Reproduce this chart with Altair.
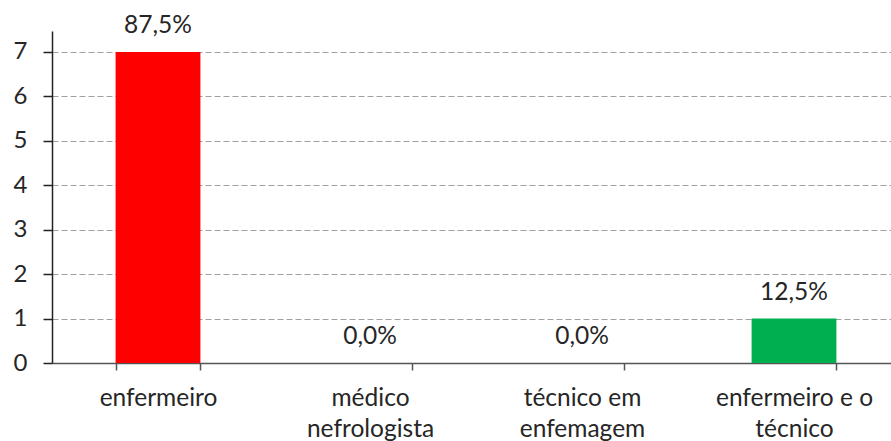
import altair as alt
import pandas as pd

# Responses per professional category
categories = [
    "enfermeiro",
    "médico\nnefrologista",
    "técnico em\nenfemagem",
    "enfermeiro e o\ntécnico",
]
counts = [7, 0, 0, 1]
colors = ["#FF0000", "#FF0000", "#FF0000", "#00B050"]

total = sum(counts)
df = pd.DataFrame({"categoria": categories, "n": counts, "cor": colors})
df["pct"] = df["n"] / total * 100
df["rotulo"] = df["pct"].map(lambda v: f"{v:.1f}".replace(".", ",") + "%")

FONT = "Lato"
TXT = "#262626"

x_enc = alt.X(
    "categoria:N",
    sort=categories,
    title=None,
    scale=alt.Scale(range=[0, 848], paddingInner=0.6, paddingOuter=0.3),
    axis=alt.Axis(
        labelAngle=0,
        labelExpr="split(datum.label, '\\n')",
        labelFont=FONT,
        labelFontSize=24.5,
        labelColor=TXT,
        labelLineHeight=31,
        labelPadding=16,
        labelBaseline="top",
        tickBand="extent",
        tickSize=7,
        tickColor="#555555",
        tickWidth=1.5,
        domainColor="#555555",
        domainWidth=1.5,
        grid=False,
    ),
)

y_scale = alt.Scale(domain=[0, 7.47], nice=False)

bars = alt.Chart(df).mark_bar().encode(
    x=x_enc,
    y=alt.Y(
        "n:Q",
        title=None,
        scale=y_scale,
        axis=alt.Axis(
            values=list(range(0, 8)),
            labelFont=FONT,
            labelFontSize=24,
            labelColor=TXT,
            labelPadding=16,
            tickSize=9,
            tickColor="#222222",
            tickWidth=1.5,
            domainColor="#222222",
            domainWidth=1.5,
            grid=True,
            gridColor="#A0A0A0",
            gridDash=[6, 3],
            gridWidth=1.2,
        ),
    ),
    color=alt.Color("cor:N", scale=None, legend=None),
)

labels = alt.Chart(df).mark_text(
    font=FONT, fontSize=24.5, color=TXT, baseline="middle", dy=-26
).encode(
    x=alt.X("categoria:N", sort=categories),
    y=alt.Y("n:Q", scale=y_scale),
    text="rotulo:N",
)

chart = (
    alt.layer(bars, labels)
    .properties(
        width=839,
        height=332,
        autosize=alt.AutoSizeParams(type="none"),
        padding={"left": 52, "top": 31, "right": 0, "bottom": 78},
        background="white",
    )
    .configure_view(stroke=None)
)

chart.save("out.html", embed_options={"renderer": "svg", "actions": False})
